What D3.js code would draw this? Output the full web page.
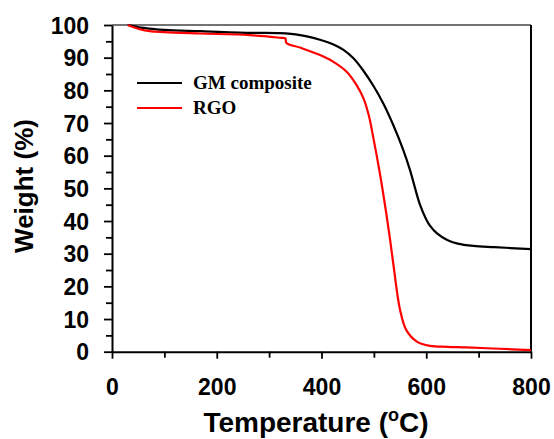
<!DOCTYPE html>
<html>
<head>
<meta charset="utf-8">
<script src="https://cdn.jsdelivr.net/npm/d3@7"></script>
<style>
  body { margin: 0; background: #fff; }
  svg { display: block; }
</style>
</head>
<body>
<div id="chart"></div>
<script>
// temperature (C) and weight (%)
var gmTemp   = [30, 40, 55, 72, 100, 168, 263, 320, 359, 397, 416, 442, 461, 480, 499, 518, 537, 556, 569, 588, 600, 607, 620, 640, 660, 690, 730, 800];
var gmWeight = [100, 99.7, 99.2, 98.9, 98.5, 98.1, 97.6, 97.5, 96.9, 95.5, 94.5, 92.4, 89.8, 86.0, 81.4, 76.0, 69.4, 61.8, 55.6, 45.0, 40.5, 38.6, 36.3, 34.2, 33.1, 32.4, 32.0, 31.4];

var rgoTemp   = [30, 40, 53, 72, 100, 168, 263, 320, 331, 333, 359, 397, 422, 448, 467, 480, 490, 498, 511, 524, 531, 537, 550, 562, 582, 607, 640, 677, 740, 800];
var rgoWeight = [100, 99.4, 98.7, 98.1, 97.8, 97.4, 96.9, 96.1, 95.9, 94.5, 93.1, 90.8, 88.8, 85.7, 81.6, 77.6, 72.5, 66.3, 55.0, 42.0, 34.2, 27.0, 12.8, 6.6, 3.1, 1.8, 1.5, 1.3, 0.9, 0.5];

var seriesNames = ["GM composite", "RGO"];
var seriesColors = ["#000000", "#ff0000"];

var xTicks = [0, 200, 400, 600, 800];
var xMinor = [100, 300, 500, 700];
var yTicks = [0, 10, 20, 30, 40, 50, 60, 70, 80, 90, 100];
var yMinor = [5, 15, 25, 35, 45, 55, 65, 75, 85, 95];

var width = 554, height = 439;
var plotLeft = 112, plotRight = 531, plotTop = 25, plotBottom = 351.7;

var svg = d3.select("#chart").append("svg")
    .attr("width", width)
    .attr("height", height);

var x = d3.scaleLinear().domain([0, 800]).range([plotLeft, plotRight]);
var y = d3.scaleLinear().domain([0, 100]).range([plotBottom, plotTop]);

// frame
svg.append("line").attr("x1", plotLeft).attr("x2", plotRight).attr("y1", plotTop).attr("y2", plotTop)
    .attr("stroke", "#444").attr("stroke-width", 1.5);
svg.append("line").attr("x1", plotRight).attr("x2", plotRight).attr("y1", plotTop).attr("y2", plotBottom)
    .attr("stroke", "#000").attr("stroke-width", 2);

// axes
svg.append("g").attr("transform", "translate(0," + plotBottom + ")")
    .call(d3.axisBottom(x).tickValues(xTicks).tickSize(7).tickSizeOuter(0).tickPadding(20));
svg.append("g").attr("transform", "translate(0," + plotBottom + ")")
    .call(d3.axisBottom(x).tickValues(xMinor).tickSize(6).tickSizeOuter(0).tickFormat(""))
    .select(".domain").remove();

var yAxis = svg.append("g").attr("transform", "translate(" + plotLeft + ",0)")
    .call(d3.axisLeft(y).tickValues(yTicks).tickSize(8).tickSizeOuter(0).tickPadding(15));
svg.append("g").attr("transform", "translate(" + plotLeft + ",0)")
    .call(d3.axisLeft(y).tickValues(yMinor).tickSize(6).tickSizeOuter(0).tickFormat(""))
    .select(".domain").remove();

svg.selectAll(".domain").attr("stroke", "#000").attr("stroke-width", 2);
svg.selectAll(".tick line").attr("stroke", "#000").attr("stroke-width", 1.8);
svg.selectAll(".tick text")
    .attr("fill", "#000")
    .style("font-family", "'Liberation Sans', Arial, sans-serif")
    .style("font-weight", "bold")
    .style("font-size", "23px");
yAxis.selectAll(".tick text").attr("dy", "0.36em");

// curves
var line = d3.line()
    .x(function(d) { return x(d[0]); })
    .y(function(d) { return y(d[1]); })
    .curve(d3.curveCatmullRom.alpha(0.5));

var series = [d3.zip(gmTemp, gmWeight), d3.zip(rgoTemp, rgoWeight)];

svg.selectAll(".curve")
    .data(series)
    .enter()
    .append("path")
    .attr("class", "curve")
    .attr("d", line)
    .attr("fill", "none")
    .attr("stroke", function(d, i) { return seriesColors[i]; })
    .attr("stroke-width", 2.2);

// legend
var legend = svg.selectAll(".legend")
    .data(seriesNames)
    .enter()
    .append("g")
    .attr("class", "legend")
    .attr("transform", function(d, i) { return "translate(137," + (83 + i * 25) + ")"; });

legend.append("line")
    .attr("x1", 0).attr("x2", 45)
    .attr("stroke", function(d, i) { return seriesColors[i]; })
    .attr("stroke-width", 2.2);

legend.append("text")
    .attr("x", 56)
    .attr("dy", "0.33em")
    .text(function(d) { return d; })
    .style("font-family", "'Liberation Serif', 'Times New Roman', serif")
    .style("font-weight", "bold")
    .style("font-size", "19px");

// axis titles
var xTitle = svg.append("text")
    .attr("x", 316)
    .attr("y", 432)
    .attr("text-anchor", "middle")
    .style("font-family", "'Liberation Sans', Arial, sans-serif")
    .style("font-weight", "bold")
    .style("font-size", "28px");
xTitle.append("tspan").text("Temperature (");
xTitle.append("tspan").attr("dy", -11).style("font-size", "18px").text("o");
xTitle.append("tspan").attr("dy", 11).text("C)");

svg.append("text")
    .attr("transform", "translate(33,186) rotate(-90)")
    .attr("text-anchor", "middle")
    .style("font-family", "'Liberation Sans', Arial, sans-serif")
    .style("font-weight", "bold")
    .style("font-size", "26px")
    .text("Weight (%)");
</script>
</body>
</html>
